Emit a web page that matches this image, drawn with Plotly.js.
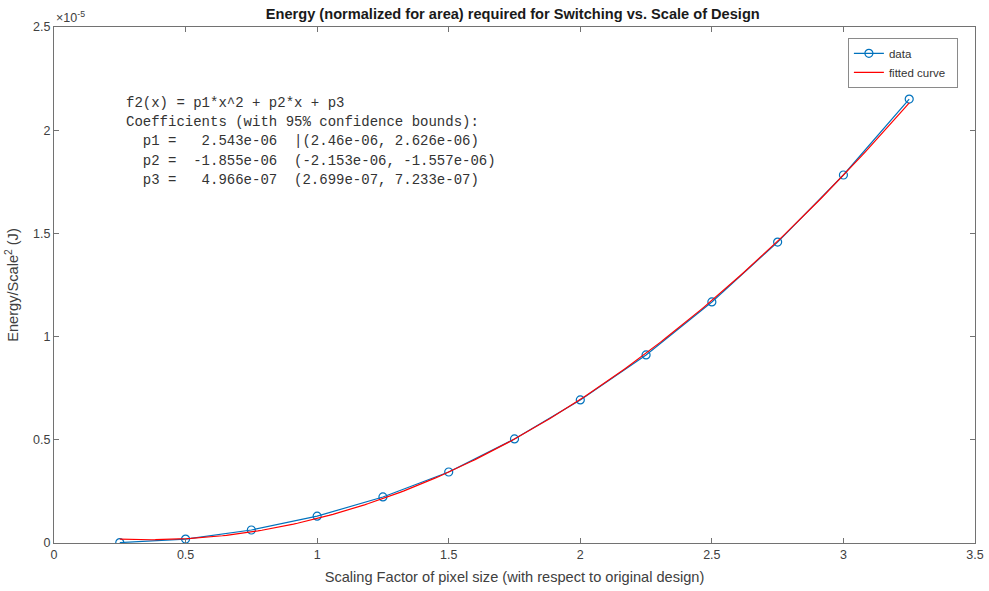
<!DOCTYPE html>
<html>
<head>
<meta charset="utf-8">
<script src="https://cdn.plot.ly/plotly-3.0.1.min.js"></script>
<style>
  html, body { margin: 0; padding: 0; background: #fff; }
  #chart { width: 989px; height: 591px; }
</style>
</head>
<body>
<div id="chart"></div>
<script>
// Scaling factor of pixel size (relative to original design)
const scaleFactor = [0.25, 0.5, 0.75, 1.0, 1.25, 1.5, 1.75, 2.0, 2.25, 2.5, 2.75, 3.0, 3.25];
// Switching energy normalised by scale^2 (J)
const energyPerArea = [0.002e-5, 0.019e-5, 0.063e-5, 0.130e-5, 0.223e-5, 0.344e-5, 0.504e-5,
                       0.693e-5, 0.911e-5, 1.168e-5, 1.458e-5, 1.783e-5, 2.151e-5];
// Quadratic fit coefficients f2(x) = p1*x^2 + p2*x + p3
const fitCoeffs = [2.543e-06, -1.855e-06, 4.966e-07];
const fitText = [
  'f2(x) = p1*x^2 + p2*x + p3',
  'Coefficients (with 95% confidence bounds):',
  '  p1 =   2.543e-06  |(2.46e-06, 2.626e-06)',
  '  p2 =  -1.855e-06  (-2.153e-06, -1.557e-06)',
  '  p3 =   4.966e-07  (2.699e-07, 7.233e-07)'
];
const yTickVals = [0, 0.5e-5, 1e-5, 1.5e-5, 2e-5, 2.5e-5];
const yTickText = ['0', '0.5', '1', '1.5', '2', '2.5'];
const xTickVals = [0, 0.5, 1, 1.5, 2, 2.5, 3, 3.5];
const xTickText = ['0', '0.5', '1', '1.5', '2', '2.5', '3', '3.5'];

// Evaluate the fitted polynomial on a fine grid across the data range
const fitX = [], fitY = [];
const nFit = 200;
const x0 = scaleFactor[0], x1 = scaleFactor[scaleFactor.length - 1];
for (let i = 0; i <= nFit; i++) {
  const x = x0 + (x1 - x0) * i / nFit;
  fitX.push(x);
  fitY.push(fitCoeffs[0] * x * x + fitCoeffs[1] * x + fitCoeffs[2]);
}

const traces = [
  {
    x: scaleFactor, y: energyPerArea, name: 'data', type: 'scatter', mode: 'lines+markers',
    line: { color: '#0072BD', width: 1.2 },
    marker: { symbol: 'circle-open', size: 8, color: '#0072BD', line: { width: 1.2, color: '#0072BD' } }
  },
  {
    x: fitX, y: fitY, name: 'fitted curve\u00a0\u00a0', type: 'scatter', mode: 'lines',
    line: { color: '#FF0000', width: 1.2 }
  }
];

const sans = 'Liberation Sans, Arial, sans-serif';
const axisCommon = {
  showline: true, mirror: 'ticks', linecolor: '#727272', linewidth: 1,
  ticks: 'inside', ticklen: 5, tickwidth: 1, tickcolor: '#727272',
  showgrid: false, zeroline: false,
  tickfont: { family: sans, size: 12.5, color: '#404040' }
};

const annotations = fitText.map((t, i) => ({
  xref: 'paper', yref: 'paper', x: 0.0757, y: 0.853 - i * 0.0374,
  xanchor: 'left', yanchor: 'middle', showarrow: false, align: 'left',
  text: t.replace(/ /g, '\u00a0'),
  font: { family: 'Liberation Mono, Courier New, monospace', size: 14, color: '#333333' }
}));
annotations.push({
  xref: 'paper', yref: 'paper', x: 0.0, y: 1.0, xanchor: 'left', yanchor: 'bottom',
  showarrow: false, text: '\u00d710<sup>-5</sup>', yshift: 0,
  font: { family: sans, size: 12.5, color: '#404040' }
});

const layout = {
  width: 989, height: 591,
  margin: { l: 54, r: 14, t: 27, b: 48 },
  paper_bgcolor: '#ffffff', plot_bgcolor: '#ffffff',
  title: {
    text: '<b>Energy (normalized for area) required for Switching vs. Scale of Design</b>',
    x: 0.5185, xanchor: 'center', y: 0.976, yanchor: 'middle',
    font: { family: sans, size: 14.6, color: '#1a1a1a' }
  },
  xaxis: Object.assign({}, axisCommon, {
    range: [0, 3.5], tickvals: xTickVals, ticktext: xTickText,
    title: { text: 'Scaling Factor of pixel size (with respect to original design)', standoff: 10,
             font: { family: sans, size: 14.6, color: '#404040' } }
  }),
  yaxis: Object.assign({}, axisCommon, {
    range: [0, 2.5e-5], tickvals: yTickVals, ticktext: yTickText,
    title: { text: 'Energy/Scale<sup>2</sup> (J)', standoff: 10,
             font: { family: sans, size: 14.6, color: '#404040' } }
  }),
  legend: {
    x: 0.862, y: 0.979, xanchor: 'left', yanchor: 'top',
    bgcolor: '#ffffff', bordercolor: '#8a8a8a', borderwidth: 1,
    font: { family: sans, size: 11.5, color: '#333333' },
    tracegroupgap: 0, itemwidth: 30
  },
  showlegend: true,
  annotations: annotations
};

Plotly.newPlot('chart', traces, layout, { displayModeBar: false, staticPlot: true });
</script>
</body>
</html>
